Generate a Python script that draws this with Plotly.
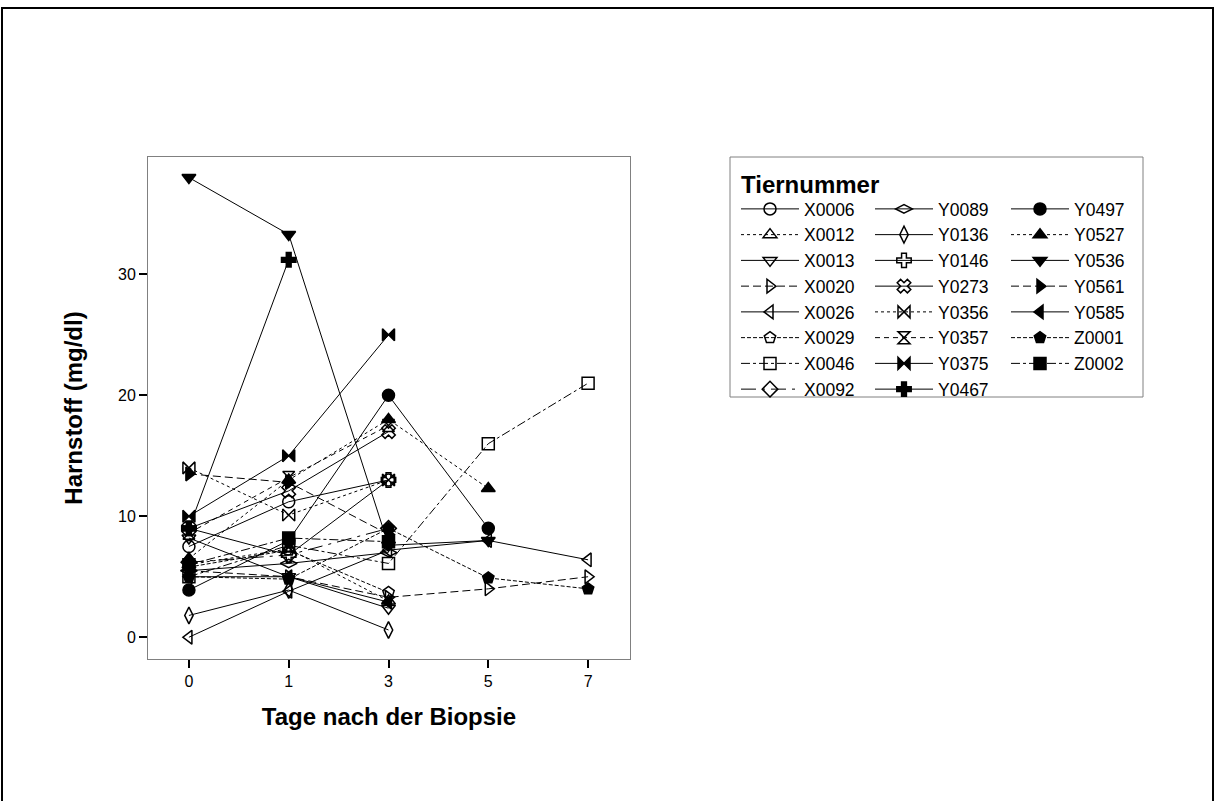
import plotly.graph_objects as go

W, H = 1216, 801
FONT = "Arial, Liberation Sans, sans-serif"

# ---- data ----
days = ["0", "1", "3", "5", "7"]

X0006 = [7.5, 11.2, 13.0, None, None]
X0012 = [6.0, 7.3, 3.0, None, None]
X0013 = [8.2, 5.0, 2.4, None, None]
X0020 = [5.5, 5.0, 3.3, 4.0, 5.0]
X0026 = [0.0, 3.8, 7.2, 8.0, 6.4]
X0029 = [5.8, 7.2, 3.7, None, None]
X0046 = [5.0, 7.6, 6.1, 16.0, 21.0]
X0092 = [6.2, 6.8, 9.0, None, None]
Y0089 = [5.5, 6.1, 7.0, None, None]
Y0136 = [1.8, 3.9, 0.6, None, None]
Y0146 = [9.0, 6.8, 13.0, None, None]
Y0273 = [9.0, 12.1, 17.0, None, None]
Y0356 = [14.0, 10.1, 13.0, None, None]
Y0357 = [8.6, 13.2, 17.5, None, None]
Y0375 = [10.0, 15.0, 25.0, None, None]
Y0467 = [9.0, 31.2, None, None, None]
Y0497 = [3.9, 8.0, 20.0, 9.0, None]
Y0527 = [6.5, 13.0, 18.0, 12.3, None]
Y0536 = [38.0, 33.3, 7.6, 8.0, None]
Y0561 = [13.5, 12.8, 8.5, None, None]
Y0585 = [5.0, 5.0, 2.9, None, None]
Z0001 = [5.0, 4.8, 9.0, 4.9, 4.0]
Z0002 = [6.0, 8.2, 7.9, None, None]

col1 = ["X0006", "X0012", "X0013", "X0020", "X0026", "X0029", "X0046", "X0092"]
col2 = ["Y0089", "Y0136", "Y0146", "Y0273", "Y0356", "Y0357", "Y0375", "Y0467"]
col3 = ["Y0497", "Y0527", "Y0536", "Y0561", "Y0585", "Z0001", "Z0002"]

values = {
    "X0006": X0006, "X0012": X0012, "X0013": X0013, "X0020": X0020,
    "X0026": X0026, "X0029": X0029, "X0046": X0046, "X0092": X0092,
    "Y0089": Y0089, "Y0136": Y0136, "Y0146": Y0146, "Y0273": Y0273,
    "Y0356": Y0356, "Y0357": Y0357, "Y0375": Y0375, "Y0467": Y0467,
    "Y0497": Y0497, "Y0527": Y0527, "Y0536": Y0536, "Y0561": Y0561,
    "Y0585": Y0585, "Z0001": Z0001, "Z0002": Z0002,
}

# ---- styles ----
symbols = {
    "X0006": "circle-open", "X0012": "triangle-up-open", "X0013": "triangle-down-open",
    "X0020": "triangle-right-open", "X0026": "triangle-left-open", "X0029": "pentagon-open",
    "X0046": "square-open", "X0092": "diamond-open",
    "Y0089": "diamond-wide-open", "Y0136": "diamond-tall-open", "Y0146": "cross-open",
    "Y0273": "x-open", "Y0356": "bowtie-open", "Y0357": "hourglass-open",
    "Y0375": "bowtie", "Y0467": "cross",
    "Y0497": "circle", "Y0527": "triangle-up", "Y0536": "triangle-down",
    "Y0561": "triangle-right", "Y0585": "triangle-left", "Z0001": "pentagon", "Z0002": "square",
}
dashes = {
    "X0006": "solid", "X0012": "dot", "X0013": "solid", "X0020": "8px,4px",
    "X0026": "solid", "X0029": "4px,2px", "X0046": "dashdot", "X0092": "longdashdot",
    "Y0089": "solid", "Y0136": "solid", "Y0146": "solid", "Y0273": "solid",
    "Y0356": "dot", "Y0357": "5px,4px", "Y0375": "solid", "Y0467": "solid",
    "Y0497": "solid", "Y0527": "dot", "Y0536": "solid", "Y0561": "8px,4px",
    "Y0585": "solid", "Z0001": "4px,2px", "Z0002": "dashdot",
}

fig = go.Figure()
for legname, col in (("legend", col1), ("legend2", col2), ("legend3", col3)):
    for name in col:
        fig.add_trace(go.Scatter(
            x=days, y=values[name], name=name, mode="lines+markers",
            legend=legname,
            line=dict(color="black", width=1, dash=dashes[name]),
            marker=dict(symbol=symbols[name], size=12, color="black",
                        line=dict(color="black", width=1.5)),
        ))

def px_x(p):
    return p / W

def px_y(p):
    return 1 - p / H

leg_common = dict(
    bgcolor="rgba(0,0,0,0)", borderwidth=0, orientation="v",
    font=dict(family=FONT, size=17.5, color="black"),
    xanchor="left", yanchor="top", tracegroupgap=0, itemwidth=58,
    y=px_y(191),
)

fig.update_layout(
    width=W, height=H,
    margin=dict(l=0, r=0, t=0, b=0),
    paper_bgcolor="white", plot_bgcolor="white",
    font=dict(family=FONT, color="black"),
    showlegend=True,
    legend=dict(leg_common, x=px_x(736)),
    legend2=dict(leg_common, x=px_x(870)),
    legend3=dict(leg_common, x=px_x(1006)),
    xaxis=dict(
        type="category", categoryorder="array", categoryarray=days,
        range=[-0.41, 4.42], domain=[px_x(148), px_x(630)],
        showline=True, mirror=True, linecolor="#808080", linewidth=1,
        ticks="outside", ticklen=8, tickwidth=2, tickcolor="black",
        tickfont=dict(size=16, family=FONT, color="black"),
        showgrid=False, zeroline=False, automargin=False,
        title=dict(text="<b>Tage nach der Biopsie</b>", standoff=18,
                   font=dict(size=24, family=FONT, color="black")),
    ),
    yaxis=dict(
        range=[-1.8, 39.7], domain=[px_y(659), px_y(157)],
        tickvals=[0, 10, 20, 30],
        showline=True, mirror=True, linecolor="#808080", linewidth=1,
        ticks="outside", ticklen=8, tickwidth=2, tickcolor="black",
        tickfont=dict(size=16, family=FONT, color="black"),
        showgrid=False, zeroline=False, automargin=False,
        title=dict(text="<b>Harnstoff (mg/dl)</b>", standoff=28,
                   font=dict(size=24, family=FONT, color="black")),
    ),
    shapes=[
        dict(type="rect", xref="paper", yref="paper",
             x0=px_x(2), x1=px_x(1213), y0=-0.05, y1=px_y(8),
             line=dict(color="black", width=2)),
        dict(type="rect", xref="paper", yref="paper",
             x0=px_x(730), x1=px_x(1143), y0=px_y(397), y1=px_y(157),
             line=dict(color="#808080", width=1)),
    ],
    annotations=[
        dict(text="<b>Tiernummer</b>", xref="paper", yref="paper",
             x=px_x(739), y=px_y(184), xanchor="left", yanchor="middle",
             showarrow=False, font=dict(size=24, family=FONT, color="black")),
    ],
)

fig.write_html("out.html", config={"displayModeBar": False},
               post_script="document.body.style.margin='0px';")
